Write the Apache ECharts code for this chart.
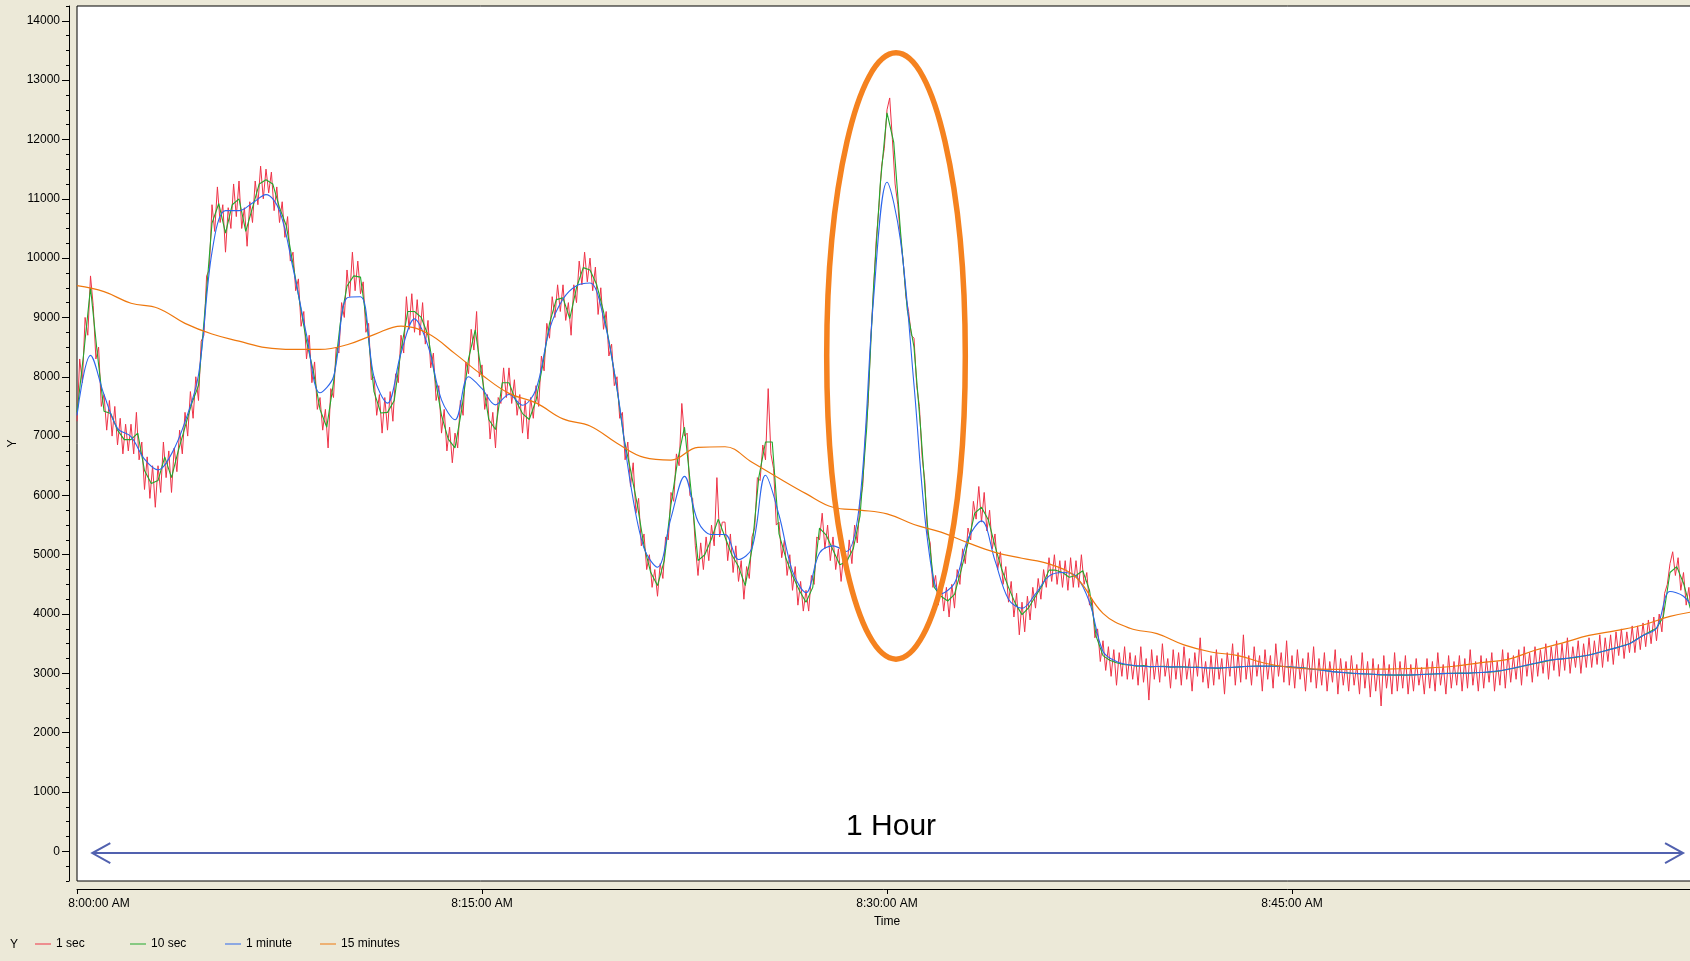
<!DOCTYPE html>
<html><head><meta charset="utf-8">
<script src="https://cdn.jsdelivr.net/npm/echarts@6/dist/echarts.min.js"></script>
<style>html,body{margin:0;padding:0;background:#ECE9D8;overflow:hidden}#c{width:1690px;height:961px}</style>
</head><body><div id="c"></div>
<script>
// ---- data (seconds after 8:00:00 AM, sampled at a fixed step per series) ----
const START_HOUR = 8;
const seriesNames = ['1 sec', '10 sec', '1 minute', '15 minutes'];
const yTickValues = [0,1000,2000,3000,4000,5000,6000,7000,8000,9000,10000,11000,12000,13000,14000];
const xTickSeconds = [0, 900, 1800, 2700];
const redStep = 6, greenStep = 15, blueStep = 30, orangeStep = 60;

const red = [
7250,8300,7900,9000,8700,9700,9200,8300,8500,7500,
7700,7100,7600,7000,7500,6850,7300,6700,7200,6750,
7200,6700,7400,6600,6900,6100,6650,5950,6500,5800,
6500,6050,6900,6300,6750,6050,6800,6400,7100,6700,
7400,7000,7750,7300,8000,7600,8600,8700,9700,9800,
10900,10450,11200,10600,10900,10100,10850,10500,11250,10700,
11300,10500,10850,10200,10950,10600,11300,10900,11550,11000,
11500,11100,11450,10800,11200,10600,10950,10350,10700,9950,
10100,9450,9650,8850,9100,8300,8700,7900,8250,7450,
7650,7100,7450,6800,7800,7650,8500,8400,9250,9000,
9800,9350,10100,9450,9950,9400,9600,8750,8900,7950,
8000,7350,7700,7050,7650,7100,7750,7250,8050,7900,
8700,8400,9350,8800,9400,8750,9300,8700,9250,8550,
8950,8150,8400,7600,7850,7050,7450,6750,7150,6550,
7050,6800,7600,7350,8250,8050,8800,8450,9100,8000,
8200,7450,7700,6950,7400,6800,7650,7550,8150,7650,
8150,7550,7950,7350,7700,7050,7600,6950,7650,7300,
7850,7500,8350,8100,8900,8650,9350,9000,9550,9100,
9550,8950,9250,8700,9550,9250,9950,9550,10100,9600,
10000,9450,9850,9050,9500,8800,9100,8350,8550,7850,
8000,7300,7400,6600,6900,6150,6550,5700,5950,5150,
5350,4750,5000,4450,4750,4300,4850,4600,5300,5250,
6050,5900,6700,6500,7550,7000,7050,6000,5950,5150,
4650,5200,4750,5300,4900,5500,5150,6300,5300,5550,
5550,4900,5350,4700,5150,4550,4900,4250,4800,4600,
5300,5450,6300,6250,6850,6600,7800,6700,6450,5500,
5550,4950,5250,4650,5000,4400,4800,4150,4550,4050,
4400,4050,4650,4500,5300,5250,5700,5100,5500,4900,
5300,4750,5100,4550,5050,4650,5250,4850,5500,5200,
5900,6150,7000,7550,8650,9450,10300,10850,11550,11850,
12500,12700,12000,11250,10900,10350,9950,9350,9100,8700,
8650,7850,7500,6650,6250,5350,5200,4450,4650,4150,
4550,4050,4450,3950,4500,4100,4750,4500,5100,4850,
5450,5250,5900,5600,6150,5550,6050,5400,5750,5100,
5350,4750,5050,4500,4800,4200,4550,3950,4350,3650,
4200,3700,4300,3900,4450,4100,4600,4250,4750,4450,
4950,4550,5000,4500,4900,4450,4900,4400,4950,4450,
4900,4450,5000,4500,4700,4150,4250,3600,3750,3200,
3550,3050,3450,2950,3400,2800,3350,2950,3450,2900,
3350,2900,3300,2800,3450,2850,3250,2550,3400,2900,
3300,2850,3500,2950,3250,2750,3400,2900,3350,2800,
3450,2900,3250,2700,3350,2950,3600,2850,3200,2750,
3300,2800,3400,2900,3250,2650,3350,2950,3500,2800,
3350,2850,3650,2900,3300,2800,3450,2950,3300,2700,
3400,2900,3300,2750,3500,2950,3350,2850,3550,2800,
3300,2750,3400,2900,3250,2700,3350,2850,3450,2750,
3250,2800,3350,2700,3200,2850,3400,2650,3250,2800,
3200,2700,3300,2800,3150,2650,3350,2750,3200,2600,
3250,2700,3150,2450,3300,2750,3150,2650,3350,2700,
3200,2750,3300,2650,3150,2700,3250,2800,3100,2650,
3250,2750,3200,2700,3350,2800,3150,2650,3300,2750,
3200,2800,3300,2700,3250,2750,3400,2800,3200,2700,
3300,2750,3250,2850,3350,2700,3200,2800,3400,2750,
3350,2850,3300,2900,3400,2800,3450,2950,3350,2850,
3450,2950,3400,3000,3500,2900,3450,3050,3550,2950,
3500,3050,3600,3000,3450,3100,3550,3000,3500,3100,
3600,3100,3550,3150,3650,3100,3600,3200,3650,3150,
3700,3300,3750,3250,3700,3350,3800,3350,3800,3400,
3850,3450,3900,3500,3950,3550,4000,3700,4350,4500,
4850,5050,4650,4950,4400,4700,4150,4450,3850,3600,
3900
];

const green = [
7400,8400,9500,8400, 7420,7380,7100,6940, 6940,7050,6420,6200, 6250,6650,6300,6750,
7150,7550,7850,9180, 10590,10920,10420,10900, 11000,10450,10850,11250, 11320,11250,10850,10550,
9900,9250,8600,8100, 7450,7150,7900,8900, 9530,9700,9680,8850, 7750,7390,7400,7600,
8450,9100,9100,9000, 8700,8000,7350,6950, 6800,7450,8300,8790, 8000,7280,7110,7900,
7900,7600,7380,7280, 7600,8200,8900,9300, 9330,8980,9500,9840, 9800,9550,9100,8480,
7800,6980,6430,5850, 5150,4700,4480,4900, 5850,6600,7150,6050, 4900,5000,5270,5600,
5300,5000,4800,4480, 5100,6300,6900,6900, 5350,4950,4650,4400, 4200,4450,5450,5330,
5080,4830,4880,5100, 5650,7150,9500,11250, 12450,11950,10450,9130, 8500,7100,5500,4450,
4300,4220,4330,4750, 5200,5700,5800,5590, 5150,4750,4450,4180, 3990,4110,4300,4480,
4740,4740,4700,4620, 4650,4730,4400,3620, 3300,3220,3180,3150, 3140,3120,3130,3110,
3115,3120,3105,3110, 3110,3100,3105,3095, 3090,3085,3095,3100, 3105,3115,3120,3125,
3120,3125,3120,3115, 3105,3100,3090,3070, 3060,3045,3030,3020, 3010,3000,2995,2990,
2985,2975,2975,2970, 2975,2970,2975,2980, 2985,2990,2995,3000, 3000,3005,3000,3010,
3015,3020,3030,3045, 3070,3090,3115,3140, 3165,3190,3215,3235, 3245,3255,3270,3290,
3310,3340,3370,3400, 3430,3465,3500,3570, 3640,3700,3760,3950, 4700,4800,4520,4100,
4000
];

const blue = [
7350,8360,7700,7130,6990,6610,6430,6700,7240,8030,
10100,10800,10800,10930,11070,10800,9830,8710,7730,8000,
9330,9350,8000,7556,8400,8975,8520,7610,7275,8000,
7800,7526,7700,7520,7790,8800,9310,9535,9580,9000,
7800,6200,5110,4790,5620,6320,5560,5340,5340,4920,
5110,6340,5670,4720,4360,5030,5150,5055,5930,9300,
11280,10300,7860,5250,4340,4520,5270,5570,4900,4250,
4098,4340,4640,4700,4640,4200,3370,3200,3140,3120,
3115,3110,3108,3100,3092,3095,3110,3120,3122,3120,
3105,3085,3060,3030,3010,2995,2985,2975,2972,2975,
2985,2995,3002,3005,3015,3035,3070,3120,3170,3220,
3245,3275,3310,3370,3430,3500,3640,3760,4380,4300,
4000
];

const orange = [
9536,9435,9240,9155,8900,8720,8600,8490,8460,8460,
8540,8710,8855,8730,8390,8030,7720,7560,7290,7170,
6880,6640,6595,6810,6820,6560,6290,6030,5800,5752,
5690,5510,5380,5200,5040,4940,4845,4620,4012,3760,
3670,3480,3360,3300,3170,3095,3070,3068,3070,3078,
3090,3120,3180,3236,3390,3510,3640,3720,3816,3960,
4050
];

// annotation anchors, in data units (seconds, value)
const arrowFrom = [34, -30], arrowTo = [3569, -30];
const hourLabelAt = [1809, 410];
const ellipseCenter = [1820, 8350], ellipseHalf = [154, 5110];

// ---- helpers ----
function pairs(arr, step) { return arr.map(function (v, i) { return [i * step, v]; }); }
function pad(n) { return (n < 10 ? '0' : '') + n; }
function fmtTime(s) {
  const h = START_HOUR + Math.floor(s / 3600);
  const m = Math.floor((s % 3600) / 60);
  const sec = s % 60;
  return h + ':' + pad(m) + ':' + pad(sec) + ' AM';
}

const FONT = "'Liberation Sans', Arial, sans-serif";
const colors = ['#EE3347', '#22A82C', '#2C66EC', '#EE780E'];
const legendLefts = [35, 130, 225, 320];

const chart = echarts.init(document.getElementById('c'), null, { renderer: 'canvas' });

const option = {
  animation: false,
  backgroundColor: '#ECE9D8',
  textStyle: { fontFamily: FONT },
  color: colors,
  grid: { left: 77, top: 6, width: 1620, height: 875, show: true, containLabel: false, outerBoundsMode: 'none',
    backgroundColor: '#ffffff', borderColor: '#000', borderWidth: 1 },
  xAxis: {
    type: 'value', min: 0, max: 3600, interval: 900, position: 'bottom', offset: 8,
    axisLine: { show: true, onZero: false, lineStyle: { color: '#000', width: 1 } },
    axisTick: { show: true, length: 5, lineStyle: { color: '#000' } },
    axisLabel: {
      color: '#000', fontSize: 12, fontFamily: FONT, margin: 9, showMaxLabel: false,
      formatter: function (v) { const s = fmtTime(v); return v === xTickSeconds[0] ? '{first|' + s + '}' : s; },
      rich: { first: { padding: [0, 0, 0, 44], fontSize: 12, color: '#000', fontFamily: FONT } }
    },
    splitLine: { show: false },
    name: 'Time', nameLocation: 'middle', nameGap: 27,
    nameTextStyle: { color: '#000', fontSize: 12, fontFamily: FONT }
  },
  yAxis: [
    {
      type: 'value', min: -500, max: 14250, interval: 250, position: 'left', offset: 8,
      axisLine: { show: true, onZero: false, lineStyle: { color: '#000', width: 1 } },
      axisTick: { show: true, length: 3, lineStyle: { color: '#000' } },
      axisLabel: { show: false }, splitLine: { show: false }
    },
    {
      type: 'value', min: -500, max: 14250, interval: 250, position: 'left', offset: 8,
      axisLine: { show: false, onZero: false },
      axisTick: { show: true, length: 7, customValues: yTickValues, lineStyle: { color: '#000' } },
      axisLabel: {
        customValues: yTickValues, color: '#000', fontSize: 12, fontFamily: FONT, margin: 9,
        formatter: function (v) { return v % 1000 === 0 ? String(v) : ''; }
      },
      splitLine: { show: false },
      name: 'Y', nameLocation: 'middle', nameRotate: 90, nameGap: 50, nameMoveOverlap: false,
      nameTextStyle: { color: '#000', fontSize: 12, fontFamily: FONT }
    }
  ],
  legend: seriesNames.map(function (n, i) {
    return {
      left: legendLefts[i], top: 938, itemWidth: 16, itemHeight: 1, icon: 'rect',
      selectedMode: false, data: [n], padding: 0,
      textStyle: { color: '#000', fontSize: 12, fontFamily: FONT }
    };
  }),
  series: [
    { name: seriesNames[0], type: 'line', data: pairs(red, redStep), showSymbol: false, symbol: 'none',
      lineStyle: { width: 1, color: colors[0] }, sampling: null, z: 2 },
    { name: seriesNames[1], type: 'line', data: pairs(green, greenStep), showSymbol: false, symbol: 'none',
      lineStyle: { width: 1.1, color: colors[1] }, z: 3 },
    { name: seriesNames[2], type: 'line', data: pairs(blue, blueStep), showSymbol: false, symbol: 'none', smooth: 0.35,
      lineStyle: { width: 1.1, color: colors[2] }, z: 4 },
    { name: seriesNames[3], type: 'line', data: pairs(orange, orangeStep), showSymbol: false, symbol: 'none', smooth: 0.4,
      lineStyle: { width: 1.2, color: colors[3] }, z: 5 }
  ]
};
chart.setOption(option);

// ---- annotations positioned from data coordinates ----
function P(pt) { return chart.convertToPixel({ gridIndex: 0 }, pt); }
const a = P(arrowFrom), b = P(arrowTo);
const c = P(ellipseCenter);
const ex = P([ellipseCenter[0] + ellipseHalf[0], ellipseCenter[1]]);
const ey = P([ellipseCenter[0], ellipseCenter[1] + ellipseHalf[1]]);
const hl = P(hourLabelAt);
const arrowColor = '#5161AF';
chart.setOption({
  graphic: [
    { type: 'line', z: 100, shape: { x1: a[0], y1: a[1], x2: b[0], y2: b[1] }, style: { stroke: arrowColor, lineWidth: 2 } },
    { type: 'polyline', z: 100, shape: { points: [[a[0] + 18, a[1] - 10], a, [a[0] + 18, a[1] + 10]] }, style: { stroke: arrowColor, lineWidth: 2, fill: 'none' } },
    { type: 'polyline', z: 100, shape: { points: [[b[0] - 18, b[1] - 10], b, [b[0] - 18, b[1] + 10]] }, style: { stroke: arrowColor, lineWidth: 2, fill: 'none' } },
    { type: 'text', z: 100, x: hl[0], y: hl[1], style: { text: '1 Hour', font: "30px 'Liberation Sans', Arial, sans-serif", fill: '#000', align: 'center', verticalAlign: 'middle', textAlign: 'center', textVerticalAlign: 'middle' } },
    { type: 'ellipse', z: 100, shape: { cx: c[0], cy: c[1], rx: Math.abs(ex[0] - c[0]), ry: Math.abs(c[1] - ey[1]) }, style: { stroke: '#F5821F', lineWidth: 5.5, fill: 'none' } },
    { type: 'text', z: 100, left: 10, top: 939, style: { text: 'Y', font: "12px 'Liberation Sans', Arial, sans-serif", fill: '#000' } }
  ]
});
</script>
</body></html>
